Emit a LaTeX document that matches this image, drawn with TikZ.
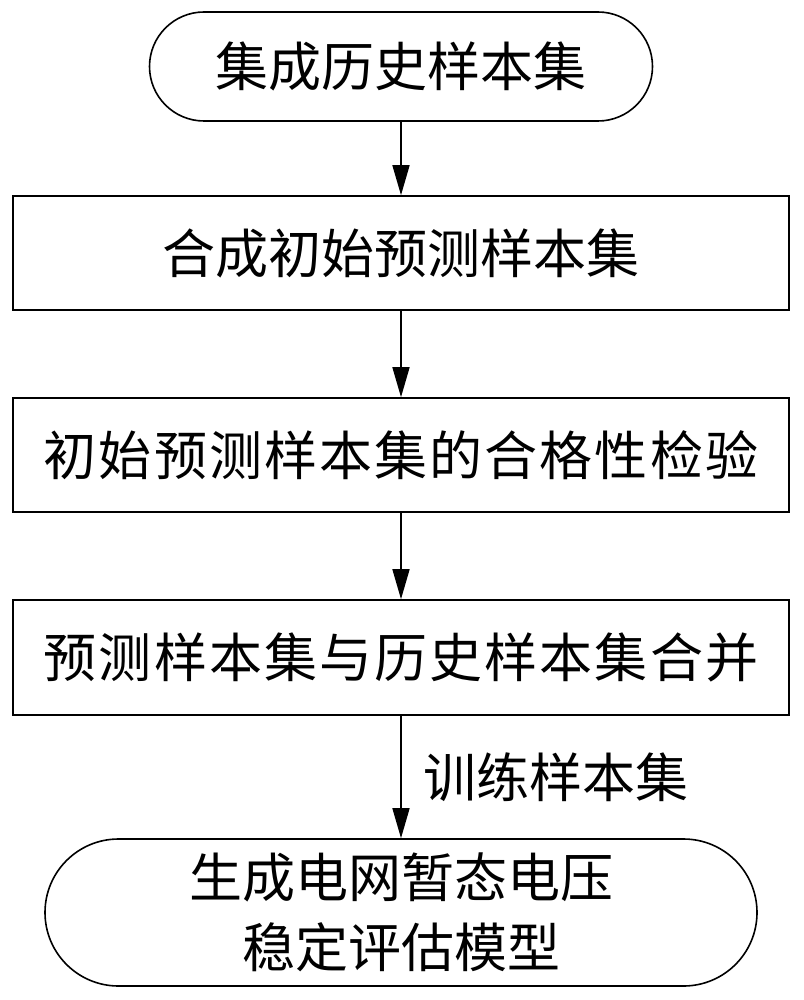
\documentclass[tikz,border=0pt]{standalone}
\usepackage{fontspec}
\usetikzlibrary{arrows.meta}
\newfontfamily\cjk{Noto Sans CJK SC}
\newfontfamily\cjkwide[LetterSpace=4]{Noto Sans CJK SC}
\tikzset{
  flowline/.style={line width=1.6pt},
  boxnode/.style={draw, flowline, rectangle, minimum width=776pt, minimum height=114pt,
    inner sep=0pt, font=\cjk\fontsize{53}{70}\selectfont},
  widebox/.style={boxnode, font=\cjkwide\fontsize{53}{70}\selectfont},
  termnode/.style={draw, flowline, rectangle, inner sep=0pt, align=center,
    font=\cjk\fontsize{53}{70}\selectfont},
  flowarrow/.style={flowline, -{Triangle[length=30pt,width=17pt]}},
}
\begin{document}
\begin{tikzpicture}[x=1pt,y=-1pt]
\useasboundingbox (0,0) rectangle (803,1000);
\node[termnode, minimum width=503pt, minimum height=109pt, rounded corners=54.5pt] (t1) at (401,66.5) {集成历史样本集};
\node[boxnode] (b2) at (401,253) {合成初始预测样本集};
\node[widebox] (b3) at (401,455) {初始预测样本集的合格性检验};
\node[widebox, minimum height=115pt] (b4) at (401,657.5) {预测样本集与历史样本集合并};
\node[termnode, minimum width=712pt, minimum height=147pt, rounded corners=73.5pt] (t2) at (401,912.5) {生成电网暂态电压\\稳定评估模型};
\draw[flowarrow] (t1.south) -- (b2.north);
\draw[flowarrow] (b2.south) -- (b3.north);
\draw[flowarrow] (b3.south) -- (b4.north);
\draw[flowarrow] (b4.south) -- node[anchor=west, inner sep=0pt, xshift=22pt, font=\cjk\fontsize{53}{70}\selectfont] (lbl) {训练样本集} (t2.north);
\end{tikzpicture}
\end{document}
